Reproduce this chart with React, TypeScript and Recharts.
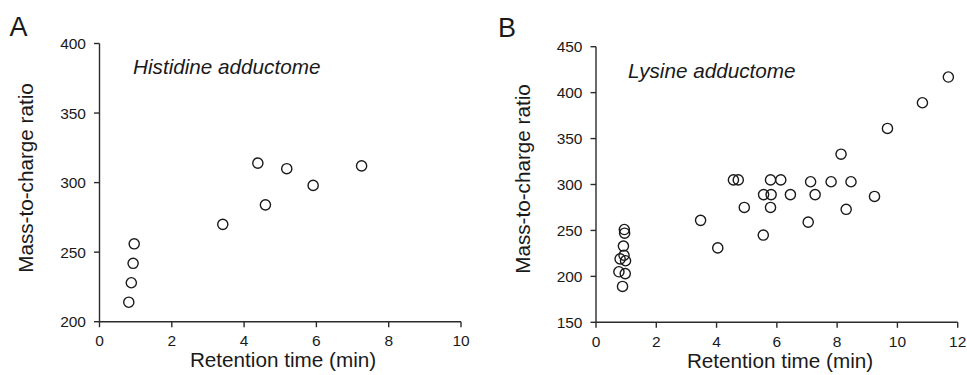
import React from 'react';
import { ScatterChart, Scatter, XAxis, YAxis } from 'recharts';

const histidineTime = [0.81, 0.88, 0.93, 0.96, 3.41, 4.38, 4.59, 5.18, 5.91, 7.25];
const histidineMz = [214, 228, 242, 256, 270, 314, 284, 310, 298, 312];

const lysineTime = [
  0.94, 0.95, 0.91, 0.8, 0.93, 0.98, 0.76, 0.97, 0.88,
  3.47, 4.04, 4.56, 4.72, 4.92, 5.55, 5.56, 5.79, 5.81, 5.79, 6.13, 6.45,
  7.04, 7.12, 7.27, 7.8, 8.13, 8.3, 8.46, 9.24, 9.67, 10.83, 11.69,
];
const lysineMz = [
  251, 247, 233, 219, 223, 217, 205, 203, 189,
  261, 231, 305, 305, 275, 245, 289, 305, 289, 275, 305, 289,
  259, 303, 289, 303, 333, 273, 303, 287, 361, 389, 417,
];

const ticksA_X = [0, 2, 4, 6, 8, 10];
const ticksA_Y = [200, 250, 300, 350, 400];
const ticksB_X = [0, 2, 4, 6, 8, 10, 12];
const ticksB_Y = [150, 200, 250, 300, 350, 400, 450];

const histidine = histidineTime.map((t, i) => ({ t, mz: histidineMz[i] }));
const lysine = lysineTime.map((t, i) => ({ t, mz: lysineMz[i] }));

const FONT = '"Liberation Sans", Arial, Helvetica, sans-serif';
const AXIS = '#2b2b2b';
const TEXT = '#1a1a1a';

const Ring = (props: any) => {
  const { cx, cy } = props;
  if (cx == null || cy == null) return null;
  return <circle cx={cx} cy={cy} r={5.1} fill="none" stroke="#1a1a1a" strokeWidth={1.4} />;
};

const tickStyle = { fontSize: 15.5, fill: TEXT, fontFamily: FONT };

function Panel(props: {
  width: number;
  margin: any;
  data: any[];
  xDomain: [number, number];
  yDomain: [number, number];
  xTicks: number[];
  yTicks: number[];
}) {
  const { width, margin, data, xDomain, yDomain, xTicks, yTicks } = props;
  return (
    <ScatterChart width={width} height={375} margin={margin}>
      <XAxis
        xAxisId="b"
        type="number"
        dataKey="t"
        domain={xDomain}
        ticks={xTicks}
        allowDataOverflow
        height={30}
        tickSize={5.5}
        tickMargin={8}
        stroke={AXIS}
        tick={tickStyle}
        axisLine={{ stroke: AXIS, strokeWidth: 1.4 }}
        tickLine={{ stroke: AXIS, strokeWidth: 1.4 }}
        interval={0}
      />
      <XAxis
        xAxisId="t"
        orientation="top"
        type="number"
        dataKey="t"
        domain={xDomain}
        height={0}
        tick={false}
        tickLine={false}
        axisLine={{ stroke: AXIS, strokeWidth: 1.4 }}
      />
      <YAxis
        yAxisId="l"
        type="number"
        dataKey="mz"
        domain={yDomain}
        ticks={yTicks}
        allowDataOverflow
        width={60}
        tickSize={5.5}
        tickMargin={8}
        stroke={AXIS}
        tick={tickStyle}
        axisLine={{ stroke: AXIS, strokeWidth: 1.4 }}
        tickLine={{ stroke: AXIS, strokeWidth: 1.4 }}
        interval={0}
      />
      <YAxis
        yAxisId="r"
        orientation="right"
        type="number"
        dataKey="mz"
        domain={yDomain}
        width={0}
        tick={false}
        tickLine={false}
        axisLine={{ stroke: AXIS, strokeWidth: 1.4 }}
      />
      <Scatter
        data={data}
        xAxisId="b"
        yAxisId="l"
        shape={Ring}
        isAnimationActive={false}
      />
    </ScatterChart>
  );
}

export default function App() {
  return (
    <div
      style={{
        position: 'absolute',
        left: 0,
        top: 0,
        width: 967,
        height: 375,
        background: '#fff',
        overflow: 'hidden',
        fontFamily: FONT,
      }}
    >
      <div style={{ position: 'absolute', left: 0, top: 0 }}>
        <Panel
          width={480}
          margin={{ top: 43.5, right: 19, bottom: 23.3, left: 39.5 }}
          data={histidine}
          xDomain={[0, 10]}
          yDomain={[200, 400]}
          xTicks={ticksA_X}
          yTicks={ticksA_Y}
        />
      </div>
      <div style={{ position: 'absolute', left: 480, top: 0 }}>
        <Panel
          width={487}
          margin={{ top: 46.7, right: 9.3, bottom: 22.7, left: 56 }}
          data={lysine}
          xDomain={[0, 12]}
          yDomain={[150, 450]}
          xTicks={ticksB_X}
          yTicks={ticksB_Y}
        />
      </div>
      <svg
        width={967}
        height={375}
        style={{ position: 'absolute', left: 0, top: 0, pointerEvents: 'none' }}
        fontFamily={FONT}
      >
        <text x={9.5} y={36} fontSize={27} fill={TEXT}>A</text>
        <text x={498} y={37} fontSize={27} fill={TEXT}>B</text>
        <text x={133} y={74} fontSize={20.7} fontStyle="italic" fill={TEXT}>Histidine adductome</text>
        <text x={628} y={78} fontSize={20.7} fontStyle="italic" fill={TEXT}>Lysine adductome</text>
        <text x={283} y={367} fontSize={20.7} textAnchor="middle" fill={TEXT}>Retention time (min)</text>
        <text x={780} y={368} fontSize={20.7} textAnchor="middle" fill={TEXT}>Retention time (min)</text>
        <text transform="translate(33,178) rotate(-90)" fontSize={20.7} textAnchor="middle" fill={TEXT}>Mass-to-charge ratio</text>
        <text transform="translate(530,179) rotate(-90)" fontSize={20.7} textAnchor="middle" fill={TEXT}>Mass-to-charge ratio</text>
      </svg>
    </div>
  );
}
